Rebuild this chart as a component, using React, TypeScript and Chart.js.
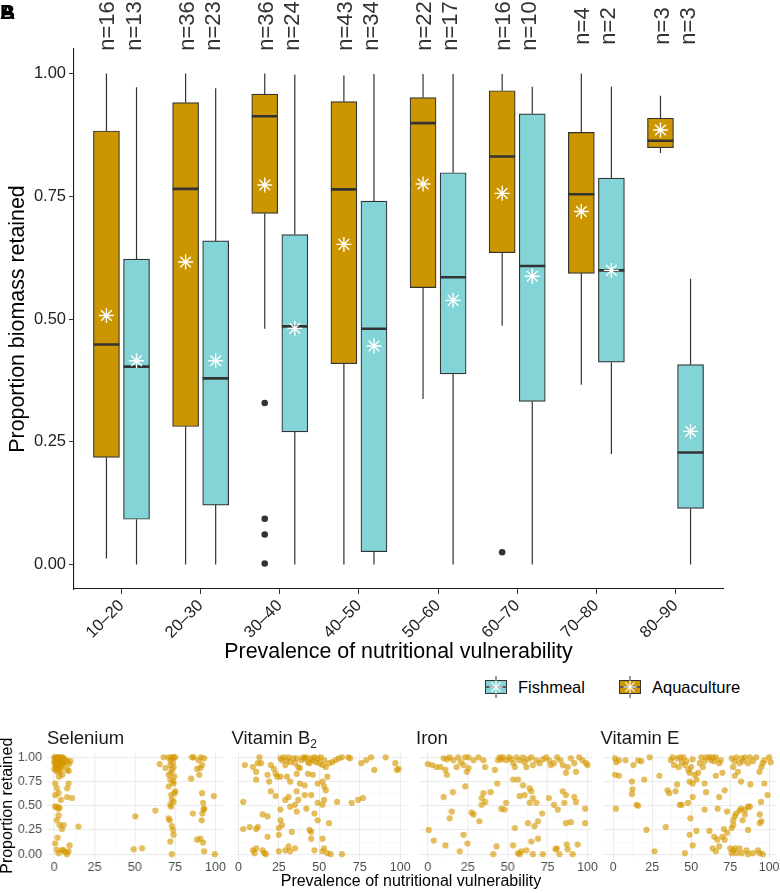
import React, { useEffect, useRef } from 'react';
import { Chart, registerables } from 'chart.js';

Chart.register(...registerables);

const FONT = "'Liberation Sans', Arial, Helvetica, sans-serif";
Chart.defaults.font.family = FONT;

// ---------------- Panel A data ----------------
const categories = ['10–20', '20–30', '30–40', '40–50', '50–60', '60–70', '70–80', '80–90'];
const aquaN = [16, 36, 36, 43, 22, 16, 4, 3];
const fishN = [13, 23, 24, 34, 17, 10, 2, 3];

const aquaMin = [0.012, 0.0, 0.48, 0.0, 0.337, 0.486, 0.366, 0.838];
const aquaQ1 = [0.218, 0.281, 0.715, 0.409, 0.564, 0.635, 0.593, 0.849];
const aquaMedian = [0.448, 0.765, 0.913, 0.764, 0.899, 0.831, 0.754, 0.863];
const aquaQ3 = [0.883, 0.941, 0.958, 0.943, 0.951, 0.965, 0.88, 0.909];
const aquaMax = [1.0, 1.0, 1.0, 0.996, 0.999, 0.999, 1.0, 0.955];
const aquaMean = [0.507, 0.616, 0.773, 0.652, 0.775, 0.756, 0.719, 0.885];
const aquaOutliers: number[][] = [[], [], [0.329, 0.093, 0.061, 0.002], [], [], [0.025], [], []];

const fishMin = [0.0, 0.0, 0.0, 0.0, 0.0, 0.0, 0.225, 0.0];
const fishQ1 = [0.092, 0.121, 0.27, 0.026, 0.388, 0.332, 0.412, 0.114];
const fishMedian = [0.403, 0.379, 0.485, 0.48, 0.585, 0.608, 0.599, 0.228];
const fishQ3 = [0.622, 0.659, 0.672, 0.74, 0.798, 0.918, 0.787, 0.407];
const fishMax = [0.972, 0.97, 0.998, 0.999, 0.999, 0.973, 0.973, 0.582];
const fishMean = [0.415, 0.415, 0.481, 0.445, 0.538, 0.587, 0.599, 0.271];
const fishOutliers: number[][] = [[], [], [], [], [], [], [], []];

const yTicksA = [0, 0.25, 0.5, 0.75, 1.0];

const AQUA = '#CC9600';
const FISH = '#82D4D6';

// ---------------- Panel B data (prevalence, proportion retained) ----------------
const seleniumPoints: [number, number][] = [
  [0, 1], [1, 1], [2, 1], [3, 1], [4, 1], [5, 1], [6, 0.99], [1, 0.97], [2, 0.96], [3, 0.95], [4, 0.97],
  [0.5, 0.93], [1.5, 0.92], [2.5, 0.9], [3.5, 0.92], [5, 0.93], [0, 0.88], [1, 0.87], [2, 0.85], [3, 0.88],
  [4, 0.86], [6, 0.95], [7, 0.97], [8, 0.96], [10, 0.96], [9, 0.93], [8, 0.87], [5, 0.82], [3, 0.8], [9, 0.86],
  [0.5, 0.98], [1.5, 0.99], [2.5, 0.97], [3.5, 0.98], [4.5, 0.95], [0, 0.95], [1, 0.9], [2, 0.93], [4, 0.9], [6, 0.91],
  [0.6, 0.73], [1.6, 0.68], [2.7, 0.63], [0.6, 0.61], [4.1, 0.56], [7.9, 0.59], [8.9, 0.73], [11, 0.58], [8, 0.68],
  [0.5, 0.49], [1.6, 0.49], [2.5, 0.47], [3.3, 0.48], [1.6, 0.35], [2.7, 0.4], [3.3, 0.3], [4.8, 0.26], [5.8, 0.3],
  [15, 0.285], [0.6, 0.11], [2.1, 0.17], [1.6, 0.045], [2.7, 0.01], [4.8, 0.04], [6.8, 0.02], [7.9, 0], [8.9, 0.03],
  [9.5, 0.09], [5.5, 0.045],
  [50.3, 0.39], [49.3, 0.05], [54.5, 0.06], [62.7, 0.45],
  [67.9, 1], [65.4, 0.93], [69, 0.89], [71, 1], [72, 0.97], [73, 1], [74, 1], [75, 1], [72, 0.92], [73, 0.87],
  [74, 0.9], [71, 0.82], [72, 0.77], [73.7, 0.75], [71, 0.7], [74, 0.73], [74.7, 0.63], [72.5, 0.61], [73, 0.56],
  [72, 0.51], [74, 0.54], [72.5, 0.49], [71, 0.37], [71.6, 0.35], [73, 0.29], [73.7, 0.25], [72, 0.13], [74, 0.2],
  [73, 0], [75, 0.65], [73.5, 0.95], [72.5, 0.84], [74.5, 0.8],
  [85.5, 1], [86.5, 1], [89.6, 0.97], [91, 1], [93, 0.99], [91.7, 0.92], [90.7, 0.89], [88.6, 0.88], [90, 0.82],
  [84.9, 0.78], [91.7, 0.63], [99, 0.6], [92.3, 0.53], [92.7, 0.46], [93, 0.47], [91.9, 0.42], [86, 0.42],
  [91.5, 0.35], [88.6, 0.15], [90.7, 0.16], [92.3, 0.12], [93, 0.03], [99.6, 0],
];

const vitaminB2Points: [number, number][] = [
  [4, 0.92], [3, 0.54], [9, 0.9], [11, 0.85], [12, 0.94], [13, 1], [14, 0.94], [11, 0.77], [18, 0.82], [20, 0.92],
  [22, 0.88], [19, 0.75], [24, 0.8], [23, 0.83], [20, 0.65], [23, 0.6], [26, 0.99], [27, 0.97], [28, 1], [30, 0.97],
  [31, 1], [32, 0.95], [29, 0.92], [34, 0.99], [35, 0.94], [36, 0.99], [37, 0.9], [38, 0.89], [39, 0.97], [40, 1],
  [41, 0.99], [42, 1], [43, 0.95], [44, 0.94], [45, 0.99], [46, 0.97], [47, 1], [48, 0.95], [49, 0.99], [50, 0.94],
  [51, 1], [52, 0.92], [53, 0.97], [54, 0.9], [56, 0.94], [58, 0.95], [60, 0.97], [62, 0.99], [64, 1], [68, 1],
  [69, 0.99], [76, 0.94], [79, 0.97], [82, 1], [84, 0.87], [91, 1], [97, 0.94], [98, 0.87], [99, 0.88],
  [26, 0.8], [30, 0.8], [32, 0.75], [36, 0.83], [38, 0.73], [41, 0.71], [43, 0.83], [46, 0.82], [49, 0.73],
  [52, 0.75], [55, 0.8], [53, 0.7], [54, 0.66], [36, 0.65], [41, 0.61], [45, 0.61], [37, 0.56], [31, 0.59],
  [29, 0.56], [26, 0.46], [32, 0.49], [35, 0.51], [36, 0.44], [42, 0.47], [49, 0.53], [52, 0.51], [53, 0.56],
  [61, 0.54], [70, 0.53], [74, 0.56], [77, 0.58], [49, 0.35], [44, 0.25], [45, 0.23], [45, 0.16], [52, 0.16],
  [56, 0.32], [47, 0.42], [33, 0.23], [26, 0.35], [27, 0.3], [25, 0.27], [25, 0.2], [18, 0.18], [18, 0.39],
  [15, 0.41], [3, 0.26], [7, 0.28], [11, 0.26], [12, 0.28], [9, 0.04], [10, 0.01], [11, 0.06], [15, 0.04],
  [16, 0.01], [17, 0], [25, 0.03], [29, 0.04], [31, 0.08], [32, 0.03], [35, 0.06], [47, 0.04], [52, 0.03],
  [55, 0.01], [57, 0], [64, 0], [53, 0.06],
];

const ironPoints: [number, number][] = [
  [0, 0.93], [2.7, 0.92], [5.4, 0.9], [9.9, 0.99], [12, 0.98], [13.7, 1], [16, 0.97], [19, 1], [20.7, 0.95],
  [23.4, 1], [25.5, 1], [22.4, 0.92], [24.4, 0.85], [25.5, 0.89], [28.6, 0.97], [31.7, 1], [34.8, 0.97], [35.9, 0.9],
  [42, 0.87], [44, 0.97], [45, 1], [46, 0.98], [47, 1], [49, 0.97], [51, 1], [52, 0.98], [53.5, 0.94], [54.5, 0.9],
  [55.5, 1], [57.5, 0.97], [59.6, 1], [60.6, 0.95], [61.7, 0.9], [62.7, 0.98], [64.8, 1], [65.8, 0.92], [68, 0.97],
  [70, 0.94], [72, 0.98], [74, 1], [76, 0.97], [77, 0.92], [79, 0.94], [81, 1], [83, 0.97], [84.5, 0.92],
  [86.5, 0.84], [87.6, 0.9], [89.6, 0.99], [91.7, 0.94], [92.8, 0.85], [94.8, 1], [96.9, 0.97], [99, 0.94],
  [100, 0.92], [11, 0.87], [12, 0.82], [18, 0.9], [7.9, 0.9],
  [9.9, 0.59], [15.7, 0.64], [23.4, 0.7], [43.5, 0.73], [53.4, 0.77], [56.5, 0.77], [59.6, 0.71], [63.8, 0.68],
  [64.8, 0.65], [60.6, 0.61], [57.5, 0.6], [75.8, 0.58], [84.5, 0.65], [86.5, 0.61], [91.7, 0.59], [92.8, 0.54],
  [85.5, 0.53], [79, 0.51], [81.4, 0.46], [49, 0.53], [46, 0.47], [48, 0.46], [34.8, 0.63], [33.7, 0.58],
  [35.9, 0.54], [33.7, 0.51], [39.3, 0.64], [98.5, 0.47], [65.8, 0.58], [68, 0.53], [63.8, 0.53], [15, 0.44],
  [13.7, 0.37], [27.5, 0.43], [28.6, 0.41], [32.3, 0.34], [54.5, 0.27], [62.7, 0.32], [66.8, 0.29], [69, 0.34],
  [71.6, 0.42], [86.5, 0.32], [89.6, 0.33], [98.5, 0.32], [0.6, 0.25], [3.7, 0.14], [11, 0.09], [22.4, 0.2],
  [24.8, 0.11], [20, 0.03], [41, 0], [43, 0.08], [53.4, 0.09], [56.5, 0.01], [57.5, 0], [58.6, 0.03], [61.7, 0.04],
  [64.8, 0.13], [65.8, 0], [69, 0.16], [72, 0], [80, 0.05], [80.7, 0.06], [82.4, 0], [87, 0.1], [87.6, 0.05],
  [90.7, 0], [93.8, 0.1],
];

const vitaminEPoints: [number, number][] = [
  [1.2, 0.99], [2, 0.95], [3.7, 0.97], [7.9, 0.97], [13, 0.92], [16, 0.97], [18, 0.96], [23.4, 1], [1.2, 0.82],
  [3.7, 0.81], [1.7, 0.47], [12, 0.75], [12.4, 0.67], [12, 0.62], [15, 0.51], [16, 0.5], [19.9, 0.77], [29.6, 0.81],
  [21.3, 0.25], [26.5, 0.03], [33.7, 0.28], [34.8, 0.66], [35.9, 0.63], [40, 0.65], [41, 0.72], [42.7, 0.51],
  [44, 0.51], [37, 0.97], [38, 1], [39, 0.92], [41, 0.99], [42, 0.9], [43, 1], [44, 0.95], [45, 1], [46, 0.92],
  [47, 0.96], [48.2, 0.87], [49, 0.84], [50, 0.9], [51, 0.98], [52.4, 0.82], [53.4, 0.77], [54.5, 0.84], [55.5, 0.94],
  [56.5, 1], [57.5, 0.9], [58.6, 0.96], [59.6, 1], [61.7, 1], [62.7, 0.97], [63.8, 1], [64.8, 0.96], [65.8, 1],
  [68, 0.94], [69, 0.97], [70, 0.84], [76, 0.99], [77, 0.9], [78, 0.96], [79, 1], [80, 0.85], [81, 0.94],
  [82.4, 0.99], [83.4, 0.96], [84.5, 1], [86.5, 0.94], [87.6, 1], [89.6, 0.96], [91.7, 1], [93.8, 0.85],
  [95.9, 0.94], [96.9, 0.97], [100, 1], [101, 0.95], [95, 0.9], [49, 0.75], [51, 0.73], [58.6, 0.73], [65.8, 0.81],
  [78, 0.81], [82, 0.75], [88, 0.72], [96.9, 0.73], [59.6, 0.64], [51, 0.59], [48, 0.53], [71.5, 0.66], [68, 0.59],
  [94.8, 0.54], [99, 0.61], [82, 0.47], [84.5, 0.46], [86.5, 0.49], [87.6, 0.49], [81, 0.45], [78.8, 0.42],
  [84.5, 0.41], [73, 0.44], [67, 0.47], [58.6, 0.46], [49.5, 0.37], [77, 0.35], [78, 0.39], [83, 0.35], [94, 0.41],
  [95, 0.34], [94, 0.32], [77, 0.3], [76, 0.27], [86.5, 0.25], [71, 0.26], [73, 0.22], [53.4, 0.24], [49, 0.2],
  [61.7, 0.24], [64.8, 0.18], [66.8, 0.15], [70, 0.18], [71.5, 0.15], [51, 0.09], [63.8, 0.06], [68, 0.08],
  [65.8, 0.03], [75, 0.06], [76, 0.01], [77, 0.04], [78, 0.06], [79, 0.01], [81, 0.06], [82.4, 0.01], [85.5, 0.04],
  [86.5, 0], [89.6, 0.01], [92.8, 0.04], [93.8, 0.01], [95.9, 0], [46, 0.01],
];

const facetTitles = ['Selenium', 'Vitamin B', 'Iron', 'Vitamin E'];
const facetSubscripts = ['', '2', '', ''];
const facetPoints = [seleniumPoints, vitaminB2Points, ironPoints, vitaminEPoints];
const facetXMin = [-5, -2.1, -5.5, -5.9];
const facetXMax = [104.7, 104.2, 102.8, 104.4];
const facetYTicks = [0, 0.125, 0.25, 0.375, 0.5, 0.625, 0.75, 0.875, 1.0];

// ---------------- layout constants ----------------
const MAIN_W = 780;
const MAIN_H = 668;
const BOX_OFF = 0.19;
const HALF_BOX = 0.164;
const LABEL_OFF = 0.165;
const N_LABEL_Y = 26;

const FACET_LEFT = [46, 230.5, 415, 599.5];
const FACET_W = 176.5;
const FACET_CANVAS_TOP = 726;
const FACET_AREA_TOP = 752.5;
const FACET_AREA_BOTTOM = 859;
const FACET_CANVAS_H = 151;

const nLabelPlugin = {
  id: 'nLabels',
  afterDraw(chart: any) {
    const { ctx } = chart;
    const xs = chart.scales.x;
    ctx.save();
    ctx.font = `22px ${FONT}`;
    ctx.fillStyle = '#333333';
    ctx.textAlign = 'center';
    ctx.textBaseline = 'middle';
    categories.forEach((_, i) => {
      const items: [number, number][] = [
        [aquaN[i], -LABEL_OFF],
        [fishN[i], LABEL_OFF],
      ];
      items.forEach(([n, off]) => {
        ctx.save();
        ctx.translate(xs.getPixelForValue(i + 1 + off), N_LABEL_Y);
        ctx.rotate(-Math.PI / 2);
        ctx.fillText(`n=${n}`, 0, 0);
        ctx.restore();
      });
    });
    ctx.restore();
  },
};

function MainChart() {
  const ref = useRef<HTMLCanvasElement>(null);
  useEffect(() => {
    if (!ref.current) return;
    const xs = categories.map((_, i) => i + 1);
    const boxes = (q1: number[], q3: number[], off: number) =>
      xs.map((c, i) => ({ x: c + off, y: [q1[i], q3[i]] }));
    const whiskers = (mn: number[], q1: number[], q3: number[], mx: number[], off: number) =>
      xs.flatMap((c, i) => [
        { x: c + off, y: q3[i] },
        { x: c + off, y: mx[i] },
        { x: c + off, y: null },
        { x: c + off, y: q1[i] },
        { x: c + off, y: mn[i] },
        { x: c + off, y: null },
      ]);
    const medians = (med: number[], off: number) =>
      xs.flatMap((c, i) => [
        { x: c + off - HALF_BOX, y: med[i] },
        { x: c + off + HALF_BOX, y: med[i] },
        { x: c + off + HALF_BOX, y: null },
      ]);
    const means = (m: number[], off: number) => xs.map((c, i) => ({ x: c + off, y: m[i] }));
    const outliers = (o: number[][], off: number) =>
      xs.flatMap((c, i) => o[i].map((v) => ({ x: c + off, y: v })));

    const boxStyle = {
      type: 'bar' as const,
      borderColor: '#333333',
      borderWidth: 1.2,
      borderSkipped: false,
      barThickness: 26,
      maxBarThickness: 26,
      barPercentage: 1,
      categoryPercentage: 1,
      grouped: false,
      order: 4,
    };
    const lineStyle = {
      type: 'line' as const,
      borderColor: '#333333',
      pointRadius: 0,
      tension: 0,
      fill: false,
      spanGaps: false,
    };
    const meanStyle = {
      type: 'scatter' as const,
      pointStyle: 'star',
      pointRadius: 7.5,
      borderColor: '#ffffff',
      backgroundColor: '#ffffff',
      borderWidth: 1.4,
      order: 0,
    };
    const outlierStyle = {
      type: 'scatter' as const,
      pointRadius: 3.3,
      backgroundColor: '#333333',
      borderWidth: 0,
      order: 1,
    };

    const chart = new Chart(ref.current, {
      type: 'bar',
      data: {
        datasets: [
          { ...meanStyle, label: 'Aquaculture mean', data: means(aquaMean, -BOX_OFF) },
          { ...meanStyle, label: 'Fishmeal mean', data: means(fishMean, BOX_OFF) },
          { ...outlierStyle, label: 'Aquaculture outliers', data: outliers(aquaOutliers, -BOX_OFF) },
          { ...outlierStyle, label: 'Fishmeal outliers', data: outliers(fishOutliers, BOX_OFF) },
          { ...lineStyle, label: 'Aquaculture median', borderWidth: 2.6, order: 2, data: medians(aquaMedian, -BOX_OFF) },
          { ...lineStyle, label: 'Fishmeal median', borderWidth: 2.6, order: 2, data: medians(fishMedian, BOX_OFF) },
          { ...boxStyle, label: 'Aquaculture', backgroundColor: AQUA, data: boxes(aquaQ1, aquaQ3, -BOX_OFF) },
          { ...boxStyle, label: 'Fishmeal', backgroundColor: FISH, data: boxes(fishQ1, fishQ3, BOX_OFF) },
          { ...lineStyle, label: 'Aquaculture whiskers', borderWidth: 1.2, order: 5, data: whiskers(aquaMin, aquaQ1, aquaQ3, aquaMax, -BOX_OFF) },
          { ...lineStyle, label: 'Fishmeal whiskers', borderWidth: 1.2, order: 5, data: whiskers(fishMin, fishQ1, fishQ3, fishMax, BOX_OFF) },
        ] as any,
      },
      options: {
        animation: false,
        responsive: false,
        maintainAspectRatio: false,
        events: [],
        layout: { padding: { top: 49, right: 57, left: 0, bottom: 0 } },
        plugins: { legend: { display: false }, tooltip: { enabled: false } },
        scales: {
          x: {
            type: 'linear',
            min: 0.4,
            max: 8.6,
            offset: false,
            afterBuildTicks: (s: any) => {
              s.ticks = categories.map((_, i) => ({ value: i + 1 }));
            },
            afterFit: (s: any) => {
              s.height = MAIN_H - 589;
            },
            ticks: {
              autoSkip: false,
              maxRotation: 45,
              minRotation: 45,
              padding: 2,
              color: '#222222',
              font: { family: FONT, size: 16.5 },
              callback: (v: any) => categories[Math.round(Number(v)) - 1] ?? '',
            },
            grid: { display: true, drawOnChartArea: false, drawTicks: true, tickLength: 5, color: '#333333', lineWidth: 1, offset: false },
            border: { display: true, color: '#1a1a1a', width: 1.1 },
            title: {
              display: true,
              text: 'Prevalence of nutritional vulnerability',
              color: '#000000',
              font: { family: FONT, size: 21.4 },
              padding: { top: 0, bottom: 3 },
            },
          },
          y: {
            type: 'linear',
            min: -0.05,
            max: 1.05,
            afterBuildTicks: (s: any) => {
              s.ticks = yTicksA.map((v) => ({ value: v }));
            },
            afterFit: (s: any) => {
              s.width = 74;
            },
            ticks: {
              padding: 3,
              color: '#222222',
              font: { family: FONT, size: 16.5 },
              callback: (v: any) => Number(v).toFixed(2),
            },
            grid: { display: true, drawOnChartArea: false, drawTicks: true, tickLength: 5, color: '#333333', lineWidth: 1 },
            border: { display: true, color: '#1a1a1a', width: 1.1 },
            title: {
              display: true,
              text: 'Proportion biomass retained',
              color: '#000000',
              font: { family: FONT, size: 21.4 },
              padding: { top: 5, bottom: 0 },
            },
          },
        },
      } as any,
      plugins: [nLabelPlugin],
    });
    return () => chart.destroy();
  }, []);
  return (
    <canvas
      ref={ref}
      width={MAIN_W}
      height={MAIN_H}
      style={{ position: 'absolute', left: 0, top: 0, width: MAIN_W, height: MAIN_H }}
    />
  );
}

const isMult = (v: number, step: number) => Math.abs(v / step - Math.round(v / step)) < 1e-6;

function Facet({ idx }: { idx: number }) {
  const ref = useRef<HTMLCanvasElement>(null);
  const showY = idx === 0;
  const padRight = 10;
  const panelLeft = FACET_LEFT[idx];
  const canvasLeft = showY ? 0 : panelLeft;
  const yAxisW = showY ? panelLeft : 0;
  const canvasW = (showY ? panelLeft + FACET_W : FACET_W) + padRight;
  useEffect(() => {
    if (!ref.current) return;
    const xMin = facetXMin[idx];
    const xMax = facetXMax[idx];
    const chart = new Chart(ref.current, {
      type: 'scatter',
      data: {
        datasets: [
          {
            label: facetTitles[idx],
            data: facetPoints[idx].map(([x, y]) => ({ x, y })),
            pointRadius: 3.1,
            backgroundColor: 'rgba(212,152,0,0.64)',
            borderWidth: 0,
          },
        ],
      },
      options: {
        animation: false,
        responsive: false,
        maintainAspectRatio: false,
        events: [],
        layout: { padding: { top: FACET_AREA_TOP - FACET_CANVAS_TOP, right: padRight, left: 0, bottom: 0 } },
        plugins: { legend: { display: false }, tooltip: { enabled: false } },
        scales: {
          x: {
            type: 'linear',
            min: xMin,
            max: xMax,
            afterBuildTicks: (s: any) => {
              const t: { value: number }[] = [];
              for (let v = -12.5; v <= 112.5; v += 12.5) if (v >= xMin && v <= xMax) t.push({ value: v });
              s.ticks = t;
            },
            afterFit: (s: any) => {
              s.height = FACET_CANVAS_TOP + FACET_CANVAS_H - FACET_AREA_BOTTOM;
            },
            ticks: {
              autoSkip: false,
              maxRotation: 0,
              minRotation: 0,
              padding: 1,
              color: '#4D4D4D',
              font: { family: FONT, size: 12.5 },
              callback: (v: any) => (isMult(Number(v), 25) ? String(Math.round(Number(v))) : ''),
            },
            grid: {
              drawTicks: false,
              color: (c: any) => (isMult(c.tick?.value ?? 0, 25) ? '#EBEBEB' : '#F4F4F4'),
              lineWidth: (c: any) => (isMult(c.tick?.value ?? 0, 25) ? 1.05 : 0.55),
            },
            border: { display: false },
          },
          y: {
            type: 'linear',
            min: -0.05,
            max: 1.05,
            afterBuildTicks: (s: any) => {
              s.ticks = facetYTicks.map((v) => ({ value: v }));
            },
            afterFit: (s: any) => {
              s.width = yAxisW;
            },
            ticks: {
              display: showY,
              padding: 4,
              color: '#4D4D4D',
              font: { family: FONT, size: 12.5 },
              callback: (v: any) => (isMult(Number(v), 0.25) ? Number(v).toFixed(2) : ''),
            },
            grid: {
              drawTicks: false,
              color: (c: any) => (isMult(c.tick?.value ?? 0, 0.25) ? '#EBEBEB' : '#F4F4F4'),
              lineWidth: (c: any) => (isMult(c.tick?.value ?? 0, 0.25) ? 1.05 : 0.55),
            },
            border: { display: false },
            title: {
              display: showY,
              text: 'Proportion retained',
              color: '#000000',
              font: { family: FONT, size: 16, lineHeight: 1 },
              padding: { top: 0, bottom: 0 },
            },
          },
        },
      } as any,
    });
    return () => chart.destroy();
  }, [idx]);
  return (
    <canvas
      ref={ref}
      width={canvasW}
      height={FACET_CANVAS_H}
      style={{ position: 'absolute', left: canvasLeft, top: FACET_CANVAS_TOP, width: canvasW, height: FACET_CANVAS_H }}
    />
  );
}

function LegendKey({ color }: { color: string }) {
  const arms = [0, 45, 90, 135];
  return (
    <svg width={22} height={22} style={{ display: 'block' }}>
      <line x1={11} y1={0} x2={11} y2={22} stroke="#333" strokeWidth={1} />
      <rect x={0.5} y={4.5} width={21} height={13} fill={color} stroke="#333" strokeWidth={1} />
      <line x1={0.5} y1={11} x2={21.5} y2={11} stroke="#555" strokeWidth={1.8} />
      {arms.map((a) => {
        const r = 6.5;
        const dx = r * Math.cos((a * Math.PI) / 180);
        const dy = r * Math.sin((a * Math.PI) / 180);
        return <line key={a} x1={11 - dx} y1={11 - dy} x2={11 + dx} y2={11 + dy} stroke="#fff" strokeWidth={1.2} />;
      })}
    </svg>
  );
}

export default function App() {
  const text = (extra: React.CSSProperties): React.CSSProperties => ({
    position: 'absolute',
    fontFamily: FONT,
    lineHeight: 1,
    whiteSpace: 'nowrap',
    ...extra,
  });
  return (
    <div style={{ position: 'absolute', left: 0, top: 0, width: 780, height: 893, background: '#fff', overflow: 'hidden' }}>
      <MainChart />
      <div style={text({ left: 0, top: 1, fontSize: 21, fontWeight: 'bold', color: '#000' })}>A</div>
      <div style={text({ left: 0, top: 1, fontSize: 21, fontWeight: 'bold', color: '#000' })}>B</div>

      <div style={{ position: 'absolute', left: 485, top: 676 }}>
        <LegendKey color={FISH} />
      </div>
      <div style={text({ left: 518, top: 678.5, fontSize: 16.5, color: '#000' })}>Fishmeal</div>
      <div style={{ position: 'absolute', left: 619, top: 676 }}>
        <LegendKey color={AQUA} />
      </div>
      <div style={text({ left: 652, top: 678.5, fontSize: 16.5, color: '#000' })}>Aquaculture</div>

      {facetTitles.map((_, i) => (
        <Facet key={i} idx={i} />
      ))}
      {facetTitles.map((t, i) => (
        <div key={t} style={text({ left: FACET_LEFT[i] + 1, top: 728.5, fontSize: 18.5, color: '#1a1a1a' })}>
          {t}
          {facetSubscripts[i] ? <sub style={{ fontSize: 12, verticalAlign: -4 }}>{facetSubscripts[i]}</sub> : null}
        </div>
      ))}
      <div
        style={text({
          left: FACET_LEFT[0],
          width: FACET_LEFT[3] + FACET_W - FACET_LEFT[0],
          textAlign: 'center',
          top: 872.5,
          fontSize: 16,
          color: '#000',
        })}
      >
        Prevalence of nutritional vulnerability
      </div>
    </div>
  );
}
